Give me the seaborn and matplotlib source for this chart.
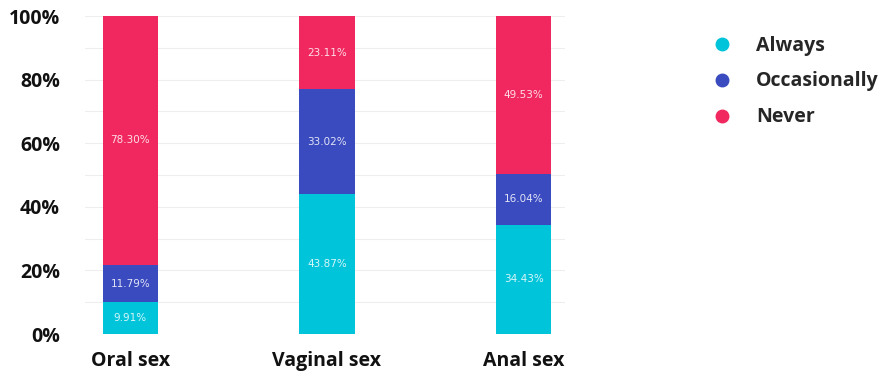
import matplotlib
matplotlib.use("Agg")
import matplotlib.pyplot as plt
import seaborn as sns
import pandas as pd
import numpy as np
from matplotlib.lines import Line2D

categories = ["Oral sex", "Vaginal sex", "Anal sex"]
series = ["Always", "Occasionally", "Never"]
always = [9.91, 43.87, 34.43]
occasionally = [11.79, 33.02, 16.04]
never = [78.30, 23.11, 49.53]
colors = ["#00C4DA", "#3A4BBF", "#F0285F"]
yticks = [0, 20, 40, 60, 80, 100]

sns.set_theme(style="white")
plt.rcParams['font.family'] = ['Open Sans', 'DejaVu Sans']

vals = np.array([always, occasionally, never])
cum = np.cumsum(vals, axis=0)

fig = plt.figure(figsize=(8.84, 3.75), dpi=100)
ax = fig.add_axes([85/884, 41/375, (565-85)/884, (334-16)/375])

for ygrid in range(0, 101, 10):
    ax.axhline(ygrid, color="#EEEEEE", lw=0.8, zorder=0)

for i in reversed(range(len(series))):
    df = pd.DataFrame({"cat": categories, "val": cum[i]})
    sns.barplot(data=df, x="cat", y="val", color=colors[i], width=0.28,
                saturation=1, linewidth=0, ax=ax, zorder=2)

for j in range(len(categories)):
    for i in range(len(series)):
        center = cum[i][j] - vals[i][j] / 2
        ax.text(j, center, f"{vals[i][j]:.2f}%", ha="center", va="center",
                color="white", fontsize=7.5, family="DejaVu Sans", alpha=0.85, zorder=3)

ax.set_xlim(-0.23, 2.21)
ax.set_ylim(0, 100)
ax.set_yticks(yticks)
ax.set_yticklabels([f"{t}%" for t in yticks], fontsize=14, fontweight="bold", color="#111111")
ax.tick_params(axis="x", labelsize=14, colors="#111111", pad=6)
for lbl in ax.get_xticklabels():
    lbl.set_fontweight("bold")
ax.tick_params(axis="y", pad=12)
ax.set_xlabel("")
ax.set_ylabel("")
for s in ax.spines.values():
    s.set_visible(False)

handles = [Line2D([0], [0], marker="o", color="none", markerfacecolor=c,
                  markeredgecolor=c, markersize=9) for c in colors]
fig.legend(handles, series, loc="upper left", bbox_to_anchor=(690/884, 1 - 18/375),
           frameon=False, prop={"size": 14, "weight": "bold"}, labelspacing=0.82,
           handletextpad=1.0, handlelength=1.5)

fig.savefig("out.png", dpi=100)
